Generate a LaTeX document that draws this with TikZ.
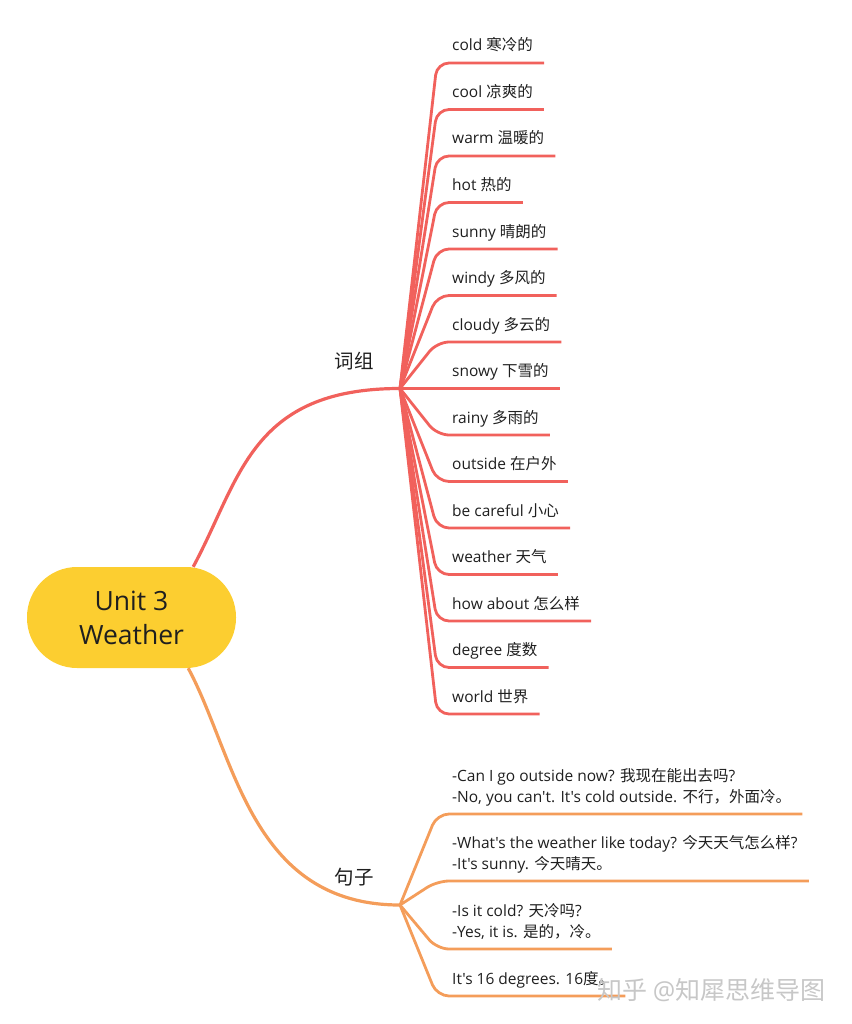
\documentclass[tikz,border=0pt]{standalone}
\usepackage{fontspec}
\setmainfont{Open Sans}
\newfontfamily\latinfont{Open Sans}
\newfontfamily\cjkfont{Noto Sans CJK SC}
% switch to the CJK font for Chinese characters and back
\newXeTeXintercharclass\hanclass
\count255="3000
\loop \XeTeXcharclass\count255=\hanclass \ifnum\count255<"303F \advance\count255 by 1 \repeat
\count255="4E00
\loop \XeTeXcharclass\count255=\hanclass \ifnum\count255<"9FFF \advance\count255 by 1 \repeat
\count255="FF00
\loop \XeTeXcharclass\count255=\hanclass \ifnum\count255<"FFEF \advance\count255 by 1 \repeat
\XeTeXinterchartokenstate=1
\XeTeXinterchartoks 0 \hanclass = {\cjkfont}
\XeTeXinterchartoks 4095 \hanclass = {\cjkfont}
\XeTeXinterchartoks \hanclass 0 = {\latinfont}
\XeTeXinterchartoks 4095 0 = {\latinfont}

\definecolor{mapred}{HTML}{F1615C}
\definecolor{maporange}{HTML}{F49D5A}
\definecolor{mapyellow}{HTML}{FCCE30}
\definecolor{maptext}{HTML}{1F1F1F}

\begin{document}
\begin{tikzpicture}[x=1pt,y=-1pt,
    leaf/.style={anchor=base west, inner sep=0pt, align=left, text=maptext, font=\fontsize{15.5}{21}\selectfont},
    topic/.style={inner sep=0pt, text=maptext, font=\fontsize{19.5}{24}\selectfont},
    redline/.style={draw=mapred, line width=2.8pt, rounded corners=12pt},
    orangeline/.style={draw=maporange, line width=2.8pt, rounded corners=12pt},
    redbranch/.style={draw=mapred, line width=3.2pt},
    orangebranch/.style={draw=maporange, line width=3.2pt}]

    \useasboundingbox (0,0) rectangle (851,1024);

    % Central topic
    \node[fill=mapyellow, rounded corners=50pt, minimum width=209pt, minimum height=101pt,
          align=center, text=maptext, font=\fontsize{26.5}{34}\selectfont] (unit) at (131.5,617.5) {Unit 3\\Weather};

    % Main branches
    \node[topic] (phrases) at (354,361) {词组};
    \node[topic] (sentences) at (354,877) {句子};
    \coordinate (phr) at (400,388.5);
    \coordinate (sen) at (400,905);

    \draw[redbranch] ([xshift=-43pt]unit.north east) .. controls +(47,-87) and +(-150,0) .. (phr);
    \draw[orangebranch] ([xshift=-48pt]unit.south east) .. controls +(47,87) and +(-150,0) .. (sen);

    % Words
    \node[leaf] (cold) at (452,51) {cold 寒冷的};
    \node[leaf] (cool) at (452,97.5) {cool 凉爽的};
    \node[leaf] (warm) at (452,144) {warm 温暖的};
    \node[leaf] (hot) at (452,190.5) {hot 热的};
    \node[leaf] (sunny) at (452,237) {sunny 晴朗的};
    \node[leaf] (windy) at (452,283.5) {windy 多风的};
    \node[leaf] (cloudy) at (452,330) {cloudy 多云的};
    \node[leaf] (snowy) at (452,376.5) {snowy 下雪的};
    \node[leaf] (rainy) at (452,423) {rainy 多雨的};
    \node[leaf] (outside) at (452,469.5) {outside 在户外};
    \node[leaf] (careful) at (452,516) {be careful 小心};
    \node[leaf] (weather) at (452,562.5) {weather 天气};
    \node[leaf] (howabout) at (452,609) {how about 怎么样};
    \node[leaf] (degree) at (452,655.5) {degree 度数};
    \node[leaf] (world) at (452,702) {world 世界};

    \draw[redline] (phr) -- ([xshift=-15pt,yshift=-12pt]cold.base west) -- ([xshift=11pt,yshift=-12pt]cold.base east);
    \draw[redline] (phr) -- ([xshift=-15pt,yshift=-12pt]cool.base west) -- ([xshift=11pt,yshift=-12pt]cool.base east);
    \draw[redline] (phr) -- ([xshift=-15pt,yshift=-12pt]warm.base west) -- ([xshift=11pt,yshift=-12pt]warm.base east);
    \draw[redline] (phr) -- ([xshift=-15pt,yshift=-12pt]hot.base west) -- ([xshift=11pt,yshift=-12pt]hot.base east);
    \draw[redline] (phr) -- ([xshift=-15pt,yshift=-12pt]sunny.base west) -- ([xshift=11pt,yshift=-12pt]sunny.base east);
    \draw[redline] (phr) -- ([xshift=-15pt,yshift=-12pt]windy.base west) -- ([xshift=11pt,yshift=-12pt]windy.base east);
    \draw[redline] (phr) -- ([xshift=-15pt,yshift=-12pt]cloudy.base west) -- ([xshift=11pt,yshift=-12pt]cloudy.base east);
    \draw[redline] (phr) -- ([xshift=-15pt,yshift=-12pt]snowy.base west) -- ([xshift=11pt,yshift=-12pt]snowy.base east);
    \draw[redline] (phr) -- ([xshift=-15pt,yshift=-12pt]rainy.base west) -- ([xshift=11pt,yshift=-12pt]rainy.base east);
    \draw[redline] (phr) -- ([xshift=-15pt,yshift=-12pt]outside.base west) -- ([xshift=11pt,yshift=-12pt]outside.base east);
    \draw[redline] (phr) -- ([xshift=-15pt,yshift=-12pt]careful.base west) -- ([xshift=11pt,yshift=-12pt]careful.base east);
    \draw[redline] (phr) -- ([xshift=-15pt,yshift=-12pt]weather.base west) -- ([xshift=11pt,yshift=-12pt]weather.base east);
    \draw[redline] (phr) -- ([xshift=-15pt,yshift=-12pt]howabout.base west) -- ([xshift=11pt,yshift=-12pt]howabout.base east);
    \draw[redline] (phr) -- ([xshift=-15pt,yshift=-12pt]degree.base west) -- ([xshift=11pt,yshift=-12pt]degree.base east);
    \draw[redline] (phr) -- ([xshift=-15pt,yshift=-12pt]world.base west) -- ([xshift=11pt,yshift=-12pt]world.base east);

    % Sentences (base is the last line)
    \node[leaf] (goout) at (452,802) {-Can I go outside now? 我现在能出去吗?\\-No, you can't. It's cold outside. 不行，外面冷。};
    \node[leaf] (today) at (452,869) {-What's the weather like today? 今天天气怎么样?\\-It's sunny. 今天晴天。};
    \node[leaf] (isitcold) at (452,937) {-Is it cold? 天冷吗?\\-Yes, it is. 是的，冷。};
    \node[leaf] (degrees) at (452,984) {It's 16 degrees. 16度。};

    \draw[orangeline] (sen) -- ([xshift=-15pt,yshift=-12pt]goout.base west) -- ([xshift=11pt,yshift=-12pt]goout.base east);
    \draw[orangeline] (sen) -- ([xshift=-15pt,yshift=-12pt]today.base west) -- ([xshift=11pt,yshift=-12pt]today.base east);
    \draw[orangeline] (sen) -- ([xshift=-15pt,yshift=-12pt]isitcold.base west) -- ([xshift=11pt,yshift=-12pt]isitcold.base east);
    \draw[orangeline] (sen) -- ([xshift=-15pt,yshift=-12pt]degrees.base west) -- ([xshift=11pt,yshift=-12pt]degrees.base east);

    % Watermark
    \node[anchor=west, inner sep=0pt, text=black!22, font=\fontsize{25}{25}\selectfont] (mark) at (597,990) {知乎 @知犀思维导图};
\end{tikzpicture}
\end{document}
